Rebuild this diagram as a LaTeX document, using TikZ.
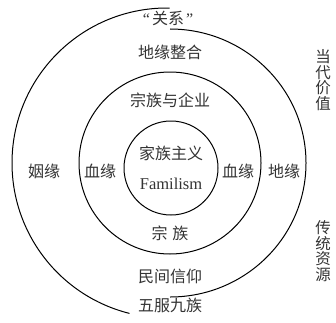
\documentclass[tikz,border=0pt]{standalone}
\usepackage{fontspec}
\setmainfont{Liberation Serif}
\newfontfamily\cjk{Noto Sans CJK SC}
\begin{document}
\begin{tikzpicture}[x=1pt,y=1pt,
  lbl/.style={inner sep=0pt, text=black!80, font=\cjk\fontsize{16}{16}\selectfont},
  ring/.style={draw=black, line width=1pt},
  vcol/.style={inner sep=0pt, text=black!80, align=center, font=\cjk\fontsize{15.5}{15.5}\selectfont}]
\useasboundingbox (0,0) rectangle (336,322);
% rings
\coordinate (oc) at (167,159);
\coordinate (rc) at (170,159);
\coordinate (mc) at (170,159);
\coordinate (ic) at (171,154);
\draw[ring] (oc) ++(89:155) arc[start angle=89, end angle=256, radius=155];
\draw[ring] (rc) ++(0,134) arc[start angle=90, end angle=-90, x radius=136, y radius=134];
\draw[ring] (mc) circle[radius=91];
\draw[ring] (ic) circle[radius=47];
% labels
\node[lbl] (guanxi) at (168,304) {{\rmfamily\fontsize{16}{16}\selectfont “\hspace{2pt}}关系{\rmfamily\fontsize{16}{16}\selectfont\hspace{2pt}”}};
\node[lbl] (dyzh) at (170,270) {地缘整合};
\node[lbl] (zzqy) at (170,222) {宗族与企业};
\node[lbl] (jzzy) at (171,169) {家族主义};
\node[inner sep=0pt, text=black!80, font=\fontsize{16.5}{16.5}\selectfont] (fam) at (171,138) {Familism};
\node[lbl] (yy) at (44,151) {姻缘};
\node[lbl] (xyl) at (100,151) {血缘};
\node[lbl] (xyr) at (238,151) {血缘};
\node[lbl] (dy) at (284,151) {地缘};
\node[lbl] (zz) at (170,89) {宗\hspace{5pt}族};
\node[lbl] (mjxy) at (170,46) {民间信仰};
\node[lbl] (wfjz) at (170,17) {五服九族};
\node[vcol] (ddjz) at (323,242) {当\\代\\价\\值};
\node[vcol] (ctzy) at (323,71) {传\\统\\资\\源};
\end{tikzpicture}
\end{document}
